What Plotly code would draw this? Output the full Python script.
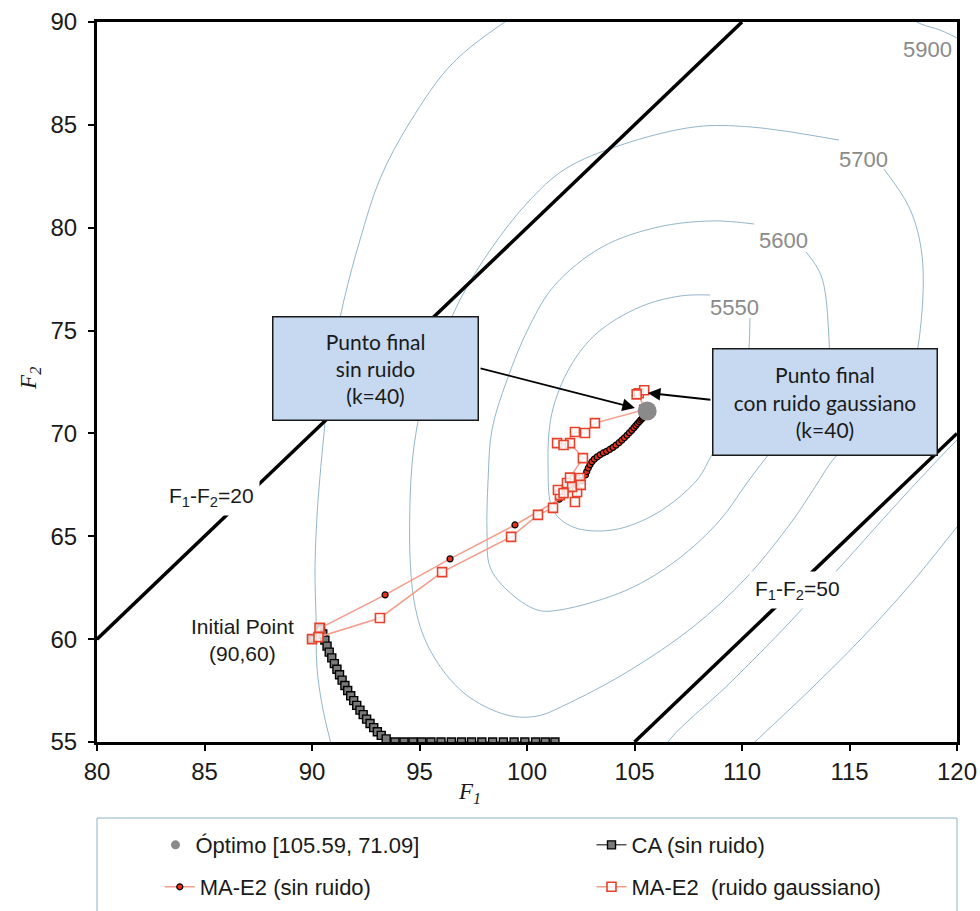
import plotly.graph_objects as go

# ---------------- data ----------------
x_range = [80, 120]
y_range = [55, 90]
x_ticks = [80, 85, 90, 95, 100, 105, 110, 115, 120]
y_ticks = [55, 60, 65, 70, 75, 80, 85, 90]

optimum_f1 = [105.59]
optimum_f2 = [71.09]

constraint_diffs = [20, 50]
constraint_labels = ["F<sub>1</sub>-F<sub>2</sub>=20", "F<sub>1</sub>-F<sub>2</sub>=50"]
constraint_label_f1 = [85.33, 112.56]
constraint_label_f2 = [66.91, 62.39]

# CA (sin ruido)
ca_f1 = [90.00, 90.40, 90.50, 90.60, 90.70, 90.80, 90.92, 91.04, 91.16, 91.28, 91.40,
         91.53, 91.66, 91.80, 91.94, 92.08, 92.23, 92.38, 92.54, 92.70, 92.87, 93.04,
         93.22, 93.45, 93.86, 94.28, 94.70, 95.10, 95.53, 96.00, 96.48, 96.95, 97.42,
         97.90, 98.40, 98.90, 99.40, 99.90, 100.40, 100.85, 101.30]
ca_f2 = [60.00, 60.55, 60.25, 59.95, 59.66, 59.37, 59.09, 58.81, 58.54, 58.27, 58.01,
         57.75, 57.50, 57.25, 57.01, 56.78, 56.55, 56.33, 56.11, 55.90, 55.70, 55.50,
         55.32, 55.15, 55.00, 55.00, 55.00, 55.00, 55.00, 55.00, 55.00, 55.00, 55.00,
         55.00, 55.00, 55.00, 55.00, 55.00, 55.00, 55.00, 55.00]

# MA-E2 (sin ruido)
ma_f1 = [90.00, 90.40, 93.40, 96.42, 99.44, 101.50, 102.25, 102.55, 102.72,
         102.78, 102.85, 102.93, 103.02, 103.13, 103.26, 103.40, 103.55, 103.70, 103.85,
         104.00, 104.14, 104.28, 104.41, 104.53, 104.65, 104.76, 104.87, 104.97, 105.06,
         105.14, 105.22, 105.29, 105.35, 105.40, 105.45, 105.50, 105.54, 105.57]
ma_f2 = [60.00, 60.55, 62.15, 63.90, 65.55, 66.80, 67.35, 67.70, 67.98,
         68.15, 68.32, 68.48, 68.62, 68.75, 68.86, 68.96, 69.05, 69.13, 69.22,
         69.32, 69.43, 69.55, 69.67, 69.79, 69.91, 70.03, 70.15, 70.27, 70.38,
         70.48, 70.57, 70.65, 70.72, 70.78, 70.84, 70.90, 70.96, 71.02]

# MA-E2 (ruido gaussiano)
man_f1 = [90.00, 90.35, 90.30, 93.16, 96.05, 99.26, 100.51, 101.21, 101.53, 101.44,
          101.86, 102.23, 102.47, 102.23, 102.33, 102.10, 101.70, 102.50, 102.00, 102.60,
          102.00, 101.40, 101.70, 102.23, 102.70, 103.16, 105.45, 105.20, 105.45, 105.10]
man_f2 = [60.00, 60.55, 60.10, 61.03, 63.26, 64.97, 66.04, 66.38, 67.00, 67.25,
          67.59, 67.74, 67.83, 66.67, 67.15, 67.40, 67.10, 67.50, 67.85, 68.80,
          69.53, 69.53, 69.44, 70.07, 70.02, 70.50, 71.15, 71.95, 72.10, 71.90]

# contour lines
c5550_f1 = [110.37, 110.33, 110.14, 109.53, 108.65, 107.91, 106.05, 104.00, 102.14,
            101.21, 100.98, 101.16, 102.00, 103.26, 105.26, 107.12, 108.51]
c5550_f2 = [75.61, 74.20, 72.11, 70.41, 69.05, 67.74, 66.13, 65.31, 65.45,
            66.28, 68.37, 70.99, 73.23, 74.88, 76.15, 76.68, 76.73]

c5600_f1 = [112.98, 113.67, 114.00, 113.91, 112.70, 111.30, 110.23, 108.98, 106.98,
            104.65, 101.53, 100.47, 99.07, 98.28, 98.14, 98.19, 98.37, 99.07, 100.14,
            101.30, 103.49, 106.09, 108.65, 110.56]
c5600_f2 = [78.82, 77.70, 75.42, 72.60, 70.65, 69.05, 67.59, 65.79, 63.85,
            62.39, 61.42, 61.42, 62.39, 63.51, 65.16, 67.74, 70.17, 72.60, 75.27,
            77.22, 79.06, 80.03, 80.33, 80.18]

c5700_f1 = [116.60, 117.81, 118.37, 118.33, 117.91, 116.88, 115.72, 114.42, 113.40,
            112.37, 110.23, 107.72, 104.65, 101.77, 100.47, 99.07, 97.07, 95.49, 94.74,
            94.56, 94.88, 95.72, 96.88, 98.33, 100.05, 101.77, 104.37, 107.81, 110.37,
            114.51]
c5700_f2 = [82.85, 80.91, 78.67, 75.42, 73.08, 71.14, 69.92, 68.95, 67.40,
            65.79, 63.02, 60.59, 58.40, 56.80, 56.26, 56.31, 57.38, 59.47, 61.90,
            66.76, 70.31, 73.57, 76.49, 78.97, 81.25, 82.85, 84.02, 84.90, 84.90,
            84.26]

c5900a_f1 = [99.67, 96.60, 94.56, 93.16, 92.23, 91.49, 90.84, 90.56, 90.28, 90.14,
             90.19, 90.23, 90.47, 90.84, 91.10]
c5900a_f2 = [90.49, 88.06, 85.14, 82.37, 79.40, 76.49, 73.08, 70.02, 66.76, 63.51,
             60.93, 58.65, 56.80, 55.10, 54.10]
c5900b_f1 = [117.58, 118.33, 119.21, 120.00, 120.37]
c5900b_f2 = [90.34, 89.90, 89.61, 89.22, 89.00]
c5900c_f1 = [106.19, 106.56, 109.44, 112.23, 115.02, 117.58, 120.00, 120.60]
c5900c_f2 = [54.12, 55.00, 57.87, 60.83, 64.04, 67.01, 69.68, 70.26]
c6100_f1 = [110.10, 110.60, 113.16, 115.49, 117.81, 120.00, 120.60]
c6100_f2 = [54.50, 55.00, 57.53, 59.96, 62.63, 65.45, 66.20]

contour_labels = ["5550", "5600", "5700", "5900"]
contour_label_f1 = [109.67, 111.95, 115.63, 118.65]
contour_label_f2 = [76.10, 79.40, 83.34, 88.64]

initial_label_f1 = [86.79]
initial_label_f2 = [59.96]

legend_names = ["Óptimo [105.59, 71.09]", "CA (sin ruido)", "MA-E2 (sin ruido)", "MA-E2  (ruido gaussiano)"]

# ---------------- styles ----------------
CONTOUR_COLOR = "#93b6ca"
PINK = "#f39c8a"
RED = "#e8412b"
FONT = "Liberation Sans, Arial, sans-serif"
BOXFONT = "Lato, Carlito, sans-serif"
TXT = "#1a1a1a"

fig = go.Figure()

contours = [(c5550_f1, c5550_f2), (c5600_f1, c5600_f2), (c5700_f1, c5700_f2),
            (c5900a_f1, c5900a_f2), (c5900b_f1, c5900b_f2), (c5900c_f1, c5900c_f2),
            (c6100_f1, c6100_f2)]
for cx, cy in contours:
    fig.add_trace(go.Scatter(x=cx, y=cy, mode="lines",
                             line=dict(color=CONTOUR_COLOR, width=1, shape="spline", smoothing=1.0),
                             showlegend=False, hoverinfo="skip"))

for d in constraint_diffs:
    x0 = max(x_range[0], y_range[0] + d)
    x1 = min(x_range[1], y_range[1] + d)
    fig.add_trace(go.Scatter(x=[x0, x1], y=[x0 - d, x1 - d], mode="lines",
                             line=dict(color="black", width=3.5), showlegend=False, hoverinfo="skip"))

fig.add_trace(go.Scatter(x=ca_f1, y=ca_f2, mode="lines+markers", name=legend_names[1],
                         line=dict(color="black", width=1),
                         marker=dict(symbol="square", size=8, color="#7a7a7a", line=dict(color="black", width=1.4)),
                         legend="legend2"))
fig.add_trace(go.Scatter(x=ma_f1, y=ma_f2, mode="lines+markers", name=legend_names[2],
                         line=dict(color=PINK, width=1.5),
                         marker=dict(symbol="circle", size=6, color="#e5321d", line=dict(color="black", width=1.2)),
                         legend="legend3"))
fig.add_trace(go.Scatter(x=man_f1, y=man_f2, mode="lines+markers", name=legend_names[3],
                         line=dict(color=PINK, width=1.5),
                         marker=dict(symbol="square", size=9, color="rgba(255,255,255,0.8)", line=dict(color=RED, width=1.6)),
                         legend="legend4"))
fig.add_trace(go.Scatter(x=optimum_f1, y=optimum_f2, mode="markers", showlegend=False,
                         marker=dict(size=19, color="#8a8a8a")))
fig.add_trace(go.Scatter(x=[None], y=[None], mode="markers", name=legend_names[0],
                         marker=dict(size=9, color="#8a8a8a"), legend="legend"))

annotations = []
for txt, lx, ly in zip(contour_labels, contour_label_f1, contour_label_f2):
    annotations.append(dict(x=lx, y=ly, text=txt, showarrow=False, font=dict(family=FONT, size=22, color="#8a8a8a")))
for txt, lx, ly in zip(constraint_labels, constraint_label_f1, constraint_label_f2):
    annotations.append(dict(x=lx, y=ly, text=txt, showarrow=False, bgcolor="white", borderpad=5,
                            font=dict(family=FONT, size=21, color=TXT)))
annotations.append(dict(x=initial_label_f1[0], y=initial_label_f2[0], text="Initial Point<br>(90,60)", showarrow=False,
                        font=dict(family=FONT, size=21, color=TXT)))

# arrows
annotations.append(dict(x=105.02, y=71.24, ax=97.77, ay=73.18, axref="x", ayref="y", text="", showarrow=True,
                        arrowhead=2, arrowsize=1.4, arrowwidth=1.8, arrowcolor="black"))
annotations.append(dict(x=105.62, y=71.97, ax=108.6, ay=71.63, axref="x", ayref="y", text="", showarrow=True,
                        arrowhead=2, arrowsize=1.4, arrowwidth=1.8, arrowcolor="black"))
# boxes
annotations.append(dict(x=92.93, y=73.18, text="Punto final<br>sin ruido<br>(k=40)", showarrow=False,
                        width=200, height=98, borderpad=2, borderwidth=1.5, bordercolor=TXT, bgcolor="#c6d9f0",
                        font=dict(family=BOXFONT, size=21, color=TXT)))
annotations.append(dict(x=113.84, y=71.55, text="Punto final<br>con ruido gaussiano<br>(k=40)", showarrow=False,
                        width=219, height=101, borderpad=2, borderwidth=1.5, bordercolor=TXT, bgcolor="#c6d9f0",
                        font=dict(family=BOXFONT, size=21, color=TXT)))
# axis titles
annotations.append(dict(xref="paper", yref="paper", x=0.4337, y=-0.0708, xanchor="center", yanchor="middle",
                        text="<i>F<sub>1</sub></i>", showarrow=False,
                        font=dict(family="Liberation Serif, Times New Roman, serif", size=23, color=TXT)))
annotations.append(dict(xref="paper", yref="paper", x=-0.078, y=0.5056, xanchor="center", yanchor="middle",
                        text="<i>F<sub>2</sub></i>", showarrow=False, textangle=-90,
                        font=dict(family="Liberation Serif, Times New Roman, serif", size=23, color=TXT)))

axis_common = dict(showline=True, linewidth=3, linecolor="black", mirror=True, ticks="outside", ticklen=6,
                   tickwidth=1.5, tickcolor="black", showgrid=False, zeroline=False, automargin=False,
                   ticklabeloverflow="allow", tickfont=dict(family=FONT, size=24, color=TXT))

legend_font = dict(family=FONT, size=22, color=TXT)
def leg(x, y):
    return dict(orientation="h", x=x, y=y, xanchor="left", yanchor="middle",
                bgcolor="rgba(0,0,0,0)", font=legend_font)

fig.update_layout(
    width=980, height=911,
    margin=dict(l=97, r=23, t=22, b=169, autoexpand=False),
    plot_bgcolor="white", paper_bgcolor="white",
    xaxis=dict(range=x_range, tickvals=x_ticks, ticklabelstandoff=0, **axis_common),
    yaxis=dict(range=y_range, tickvals=y_ticks, ticklabelstandoff=6, **axis_common),
    annotations=annotations,
    shapes=[dict(type="rect", xref="paper", yref="paper", x0=0, x1=1, y0=-0.26, y1=-0.1056,
                 line=dict(color="#8db3c7", width=1), fillcolor="rgba(0,0,0,0)")],
    legend=leg(0.068, -0.1431),
    legend2=leg(0.575, -0.1431),
    legend3=leg(0.073, -0.2014),
    legend4=leg(0.575, -0.2014),
)

# let the 980x911 figure fill the window exactly (no page margin, no scrollbars, no mode bar)
fig.write_html("out.html", config={"displayModeBar": False},
               post_script="document.body.style.margin='0';document.body.style.overflow='hidden';")
